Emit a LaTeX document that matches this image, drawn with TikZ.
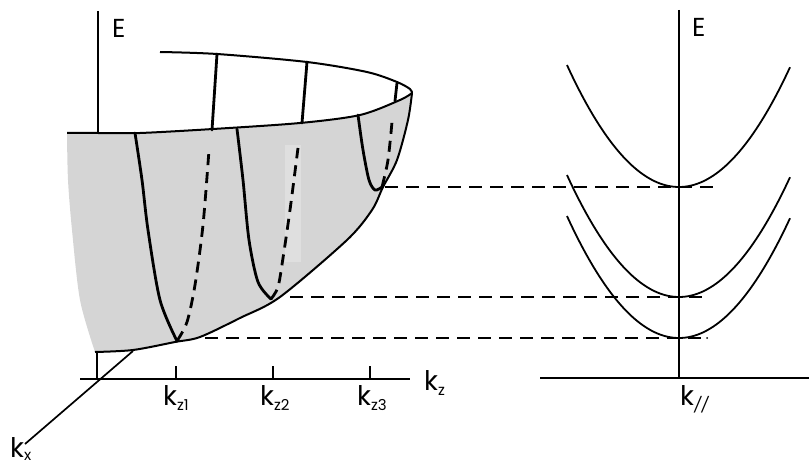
\documentclass[tikz,border=0pt]{standalone}
\usepackage{fontspec}
\setmainfont{Poppins}
\begin{document}
\begin{tikzpicture}[x=1pt,y=-1pt,
  rim/.style={line width=2pt,line join=round},
  axisline/.style={line width=1.7pt},
  slice/.style={line width=2.8pt,line cap=round},
  slicedash/.style={line width=2.8pt,dash pattern=on 11pt off 7pt},
  level/.style={line width=1.8pt,dash pattern=on 13pt off 8pt},
  band/.style={line width=1.8pt},
  lbl/.style={inner sep=0pt,anchor=base west},
  bigE/.style={lbl,font=\fontsize{26}{26}\selectfont},
  bigk/.style={lbl,font=\fontsize{27}{27}\selectfont}]
\useasboundingbox (0,0) rectangle (809,468);
\newcommand{\sbk}[1]{\raisebox{-5pt}{\fontsize{15}{15}\selectfont #1}}
% ---------- coordinates ----------
\coordinate (v1) at (177,341);
\coordinate (v2) at (271,299);
\coordinate (v3) at (382,187);
% ---------- shaded paraboloid ----------
\fill[gray!33]
  plot[smooth] coordinates {(67,133) (98,133) (140,133) (213,129) (300,123) (360,115) (400,100) (412,93)}
  -- plot[smooth] coordinates {(412,93) (408,120) (397,160) (383,187) (372,210) (347,240) (280,297) (240,318) (200,337) (175,342) (133,350) (95,352)}
  -- plot[smooth] coordinates {(95,352) (80,300) (72,230) (68,180) (67,133)} -- cycle;
\fill[white,opacity=0.25] (285,145) rectangle (301,262);
% ---------- left axes ----------
\draw[axisline] (98,11) -- (98,133);
\draw[axisline] (97,352) -- (97,380);
\draw[axisline] (80,379) -- (410,379);
\draw[axisline] (25,444) -- (133,351);
\foreach \x in {176,273,370} \draw[axisline] (\x,366) -- (\x,379);
% ---------- rim ----------
\draw[rim] plot[smooth] coordinates {(67,133) (98,133) (140,133) (213,129) (300,123) (360,115) (400,100) (412,93)};
\draw[rim] plot[smooth] coordinates {(160,52) (217,54) (307,62) (367,72) (397,82) (410,89) (412,93)};
\draw[rim] plot[smooth] coordinates {(412,93) (408,120) (397,160) (383,187) (372,210) (347,240) (280,297) (240,318) (200,337) (175,342) (133,350) (95,352)};
% ---------- slices ----------
% slice 1
\draw[slice] plot[smooth] coordinates {(135,133) (142,180) (148,230) (160,300) (v1)};
\draw[slicedash] plot[smooth] coordinates {(v1) (187,322) (195,285) (203,225) (209,150)};
\draw[slice] (217,54) -- (212,130);
% slice 2
\draw[slice] plot[smooth] coordinates {(237,129) (243,180) (249,240) (258,282) (v2)};
\draw[slicedash] plot[smooth] coordinates {(v2) (278,287) (283,258) (290,210) (298,148)};
\draw[slice] (307,62) -- (302,123);
% slice 3
\draw[slice] plot[smooth] coordinates {(358,115) (363,150) (369,180) (375,190) (v3)};
\draw[slicedash] plot[smooth] coordinates {(v3) (388,160) (392,122)};
\draw[slice] (397,83) -- (395,101);
% ---------- dashed energy levels ----------
\draw[level] (385,187) -- (715,187);
\draw[level] (290,297) -- (705,297);
\draw[level] (205,338) -- (705,338);
\fill (707,338) circle (1pt);
% ---------- right panel ----------
\draw[axisline] (679,10) -- (679,378);
\draw[axisline] (540,378) -- (809,378);
\foreach \v in {187,297,338}
  \draw[band] plot[domain=-112:111,samples=80,smooth] ({679+\x},{\v-0.009726*\x*\x});
% ---------- labels ----------
\node[bigE] (E1) at (112,38) {E};
\node[bigE] (E2) at (692,37) {E};
\node[bigk] (kz1) at (163,405) {k\sbk{z1}};
\node[bigk] (kz2) at (260,405) {k\sbk{z2}};
\node[bigk] (kz3) at (357,405) {k\sbk{z3}};
\node[bigk] (kz) at (424,390) {k\sbk{z}};
\node[bigk] (kpar) at (680,405) {k\sbk{\textit{//}}};
\node[bigk] (kx) at (10,457) {k\raisebox{-3pt}{\fontsize{15}{15}\selectfont x}};
\end{tikzpicture}
\end{document}
